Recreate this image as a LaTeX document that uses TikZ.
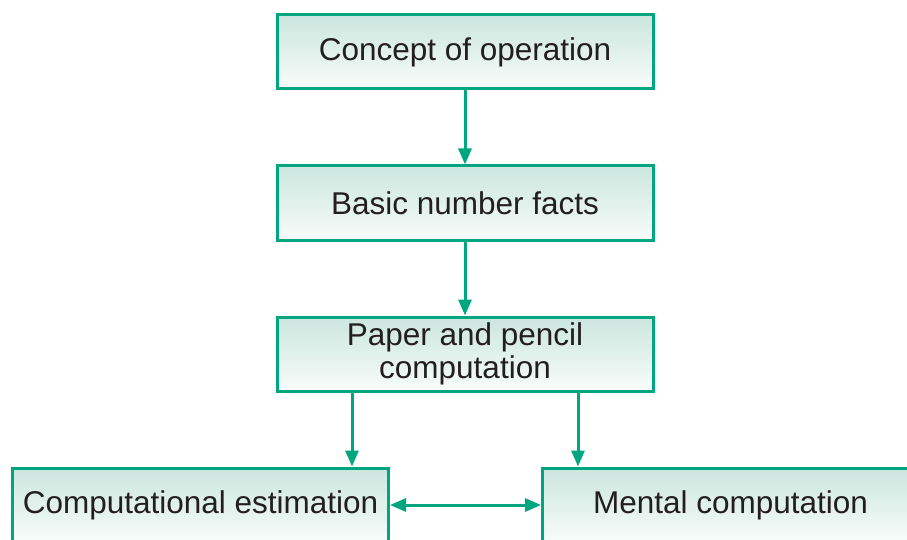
\documentclass[tikz,border=0pt]{standalone}
\usepackage{fontspec}
\setmainfont{Liberation Sans}
\usepackage{xcolor}
\usetikzlibrary{shapes,arrows.meta,positioning}

\definecolor{boxline}{RGB}{0,166,128}
\definecolor{boxtop}{RGB}{203,230,222}
\definecolor{boxbot}{RGB}{248,252,250}
\definecolor{boxtext}{RGB}{35,31,32}

\tikzset{
    stage/.style={draw=boxline, line width=3pt, top color=boxtop, bottom color=boxbot,
        minimum width=376pt, minimum height=74pt, inner sep=0pt, align=center,
        text=boxtext, font=\fontsize{31.5}{32.5}\selectfont},
    flow/.style={draw=boxline, line width=3pt, -{Triangle[length=16pt,width=13pt]}},
}

\begin{document}
\begin{tikzpicture}[node distance=74pt]
    \useasboundingbox (0pt,0pt) rectangle (907pt,-540pt);
    \node[stage] (concept) at (465pt,-52pt) {Concept of operation};
    \node[stage, below=of concept] (facts) {Basic number facts};
    \node[stage, below=of facts] (paper) {Paper and pencil\\computation};
    \node[stage] (estim) at (200.5pt,-505pt) {Computational estimation};
    \node[stage] (mental) at (730.5pt,-505pt) {Mental computation};

    \draw[flow] (concept) -- (facts);
    \draw[flow] (facts) -- (paper);
    \draw[flow] ([xshift=-113pt]paper.south) -- ([xshift=-113pt]paper.south |- estim.north);
    \draw[flow] ([xshift=113pt]paper.south) -- ([xshift=113pt]paper.south |- mental.north);
    \draw[flow, {Triangle[length=16pt,width=13pt]}-{Triangle[length=16pt,width=13pt]}] (estim) -- (mental);
\end{tikzpicture}
\end{document}
